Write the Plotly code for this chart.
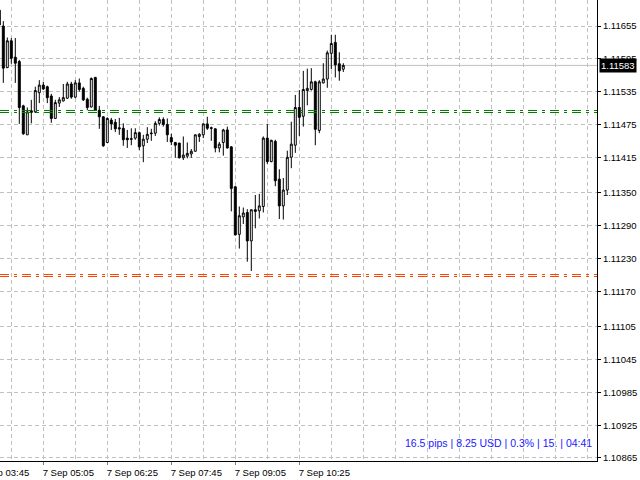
import pandas as pd
import plotly.graph_objects as go

# ---------------- data ----------------
BAR_START = "2016-09-07 04:10"
BAR_FREQ = "5min"
OPEN = [1.11684, 1.11655, 1.11579, 1.11628, 1.11598, 1.11590, 1.11509, 1.11456, 1.11500, 1.11498,
        1.11533, 1.11547, 1.11544, 1.11527, 1.11486, 1.11514, 1.11518, 1.11523, 1.11549, 1.11525,
        1.11551, 1.11541, 1.11521, 1.11507, 1.11561, 1.11501, 1.11489, 1.11442, 1.11483, 1.11479,
        1.11469, 1.11468, 1.11450, 1.11449, 1.11450, 1.11460, 1.11436, 1.11448, 1.11458, 1.11459,
        1.11477, 1.11484, 1.11475, 1.11451, 1.11442, 1.11441, 1.11414, 1.11417, 1.11421, 1.11426,
        1.11453, 1.11456, 1.11476, 1.11469, 1.11467, 1.11432, 1.11442, 1.11465, 1.11434, 1.11361,
        1.11274, 1.11306, 1.11314, 1.11262, 1.11319, 1.11317, 1.11325, 1.11450, 1.11407, 1.11444,
        1.11375, 1.11326, 1.11355, 1.11415, 1.11437, 1.11506, 1.11490, 1.11537, 1.11539, 1.11553,
        1.11464, 1.11551, 1.11558, 1.11605, 1.11625, 1.11586, 1.11576]
HIGH = [1.11693, 1.11664, 1.11634, 1.11633, 1.11633, 1.11593, 1.11511, 1.11506, 1.11520, 1.11544,
        1.11556, 1.11553, 1.11546, 1.11531, 1.11520, 1.11525, 1.11549, 1.11553, 1.11553, 1.11556,
        1.11559, 1.11544, 1.11524, 1.11561, 1.11562, 1.11509, 1.11490, 1.11488, 1.11487, 1.11485,
        1.11487, 1.11477, 1.11465, 1.11468, 1.11468, 1.11462, 1.11456, 1.11470, 1.11467, 1.11481,
        1.11488, 1.11488, 1.11486, 1.11458, 1.11443, 1.11441, 1.11453, 1.11442, 1.11430, 1.11457,
        1.11459, 1.11477, 1.11489, 1.11471, 1.11468, 1.11443, 1.11467, 1.11471, 1.11435, 1.11362,
        1.11325, 1.11323, 1.11320, 1.11319, 1.11346, 1.11348, 1.11453, 1.11476, 1.11447, 1.11447,
        1.11393, 1.11377, 1.11427, 1.11480, 1.11529, 1.11538, 1.11573, 1.11577, 1.11578, 1.11555,
        1.11556, 1.11587, 1.11610, 1.11639, 1.11639, 1.11607, 1.11587]
LOW = [1.11653, 1.11551, 1.11578, 1.11586, 1.11551, 1.11476, 1.11456, 1.11456, 1.11477, 1.11496,
       1.11514, 1.11538, 1.11514, 1.11478, 1.11485, 1.11507, 1.11517, 1.11522, 1.11522, 1.11523,
       1.11535, 1.11518, 1.11501, 1.11506, 1.11500, 1.11467, 1.11434, 1.11441, 1.11465, 1.11461,
       1.11456, 1.11436, 1.11432, 1.11437, 1.11447, 1.11428, 1.11406, 1.11441, 1.11445, 1.11454,
       1.11473, 1.11471, 1.11443, 1.11437, 1.11414, 1.11413, 1.11410, 1.11413, 1.11414, 1.11425,
       1.11443, 1.11450, 1.11465, 1.11445, 1.11424, 1.11424, 1.11418, 1.11431, 1.11316, 1.11272,
       1.11248, 1.11293, 1.11224, 1.11207, 1.11285, 1.11303, 1.11314, 1.11403, 1.11406, 1.11362,
       1.11302, 1.11301, 1.11346, 1.11395, 1.11423, 1.11454, 1.11471, 1.11510, 1.11537, 1.11437,
       1.11459, 1.11550, 1.11542, 1.11576, 1.11561, 1.11555, 1.11571]
CLOSE = [1.11657, 1.11578, 1.11628, 1.11596, 1.11587, 1.11506, 1.11458, 1.11498, 1.11497, 1.11537,
         1.11547, 1.11540, 1.11524, 1.11486, 1.11515, 1.11520, 1.11524, 1.11549, 1.11525, 1.11551,
         1.11539, 1.11520, 1.11506, 1.11559, 1.11501, 1.11489, 1.11436, 1.11486, 1.11476, 1.11467,
         1.11467, 1.11447, 1.11447, 1.11448, 1.11460, 1.11434, 1.11448, 1.11457, 1.11459, 1.11477,
         1.11484, 1.11475, 1.11456, 1.11443, 1.11437, 1.11414, 1.11419, 1.11422, 1.11426, 1.11456,
         1.11457, 1.11476, 1.11468, 1.11468, 1.11432, 1.11439, 1.11465, 1.11432, 1.11358, 1.11273,
         1.11308, 1.11313, 1.11262, 1.11319, 1.11316, 1.11326, 1.11450, 1.11407, 1.11446, 1.11372,
         1.11326, 1.11355, 1.11415, 1.11439, 1.11506, 1.11488, 1.11539, 1.11541, 1.11553, 1.11466,
         1.11553, 1.11558, 1.11606, 1.11623, 1.11584, 1.11573, 1.11583]

BID = 1.11583
LEVEL_GREEN = 1.11500
LEVEL_RED = 1.11200

Y_TICKS = [1.10865, 1.10925, 1.10985, 1.11045, 1.11105, 1.11170, 1.11230,
           1.11290, 1.11350, 1.11415, 1.11475, 1.11535, 1.11595, 1.11655]
X_TICK_TIMES = ["2016-09-07 05:05", "2016-09-07 06:25", "2016-09-07 07:45",
                "2016-09-07 09:05", "2016-09-07 10:25"]
X_TICK_LABELS = ["7 Sep 05:05", "7 Sep 06:25", "7 Sep 07:45", "7 Sep 09:05", "7 Sep 10:25"]
X_FIRST_LABEL = "7 Sep 03:45"
GRID_START, GRID_END, GRID_FREQ = "2016-09-07 04:25", "2016-09-07 16:25", "40min"
INFO_TEXT = "16.5 pips | 8.25 USD | 0.3% | 15. | 04:41"

X_RANGE = ["2016-09-07 04:10:52.5", "2016-09-07 16:37:07.5"]
Y_RANGE = [1.108595, 1.117026]

# ---------------- figure ----------------
times = pd.date_range(BAR_START, periods=len(OPEN), freq=BAR_FREQ)
grid_times = pd.date_range(GRID_START, GRID_END, freq=GRID_FREQ)

FONT = "Liberation Sans, Arial, sans-serif"
GRID = "#c0c0c0"

fig = go.Figure()
fig.add_trace(go.Candlestick(
    x=times, open=OPEN, high=HIGH, low=LOW, close=CLOSE,
    increasing=dict(line=dict(color="black", width=1), fillcolor="white"),
    decreasing=dict(line=dict(color="black", width=1), fillcolor="black"),
    whiskerwidth=0, showlegend=False, hoverinfo="skip",
))

# bid line
fig.add_hline(y=BID, line=dict(color="#c0c0c0", width=1), layer="below")

# double dash-dot level lines (pixel offsets keep both strokes crisp)
for level, color, offsets in [(LEVEL_GREEN, "#008000", (0.28, -1.72)),
                              (LEVEL_RED, "#ff4500", (0.32, -1.68))]:
    for off in offsets:
        fig.add_shape(type="line", xref="paper", x0=0, x1=1,
                      yref="y", ysizemode="pixel", yanchor=level, y0=off, y1=off,
                      line=dict(color=color, width=1, dash="9px,5px,3px,5px"))

fig.update_layout(
    width=640, height=480,
    margin=dict(l=0, r=43, t=0, b=19),
    paper_bgcolor="white", plot_bgcolor="white",
    font=dict(family=FONT, size=9.5, color="black"),
    showlegend=False,
    boxgap=0.3,
    xaxis=dict(
        type="date", range=X_RANGE, rangeslider=dict(visible=False),
        tickvals=X_TICK_TIMES, ticktext=X_TICK_LABELS,
        ticks="outside", ticklen=3, tickcolor="#808080",
        ticklabelshift=25, ticklabelstandoff=0,
        showgrid=True, gridcolor=GRID, griddash="4px,3px", gridwidth=1,
        minor=dict(tickvals=list(grid_times), showgrid=True, gridcolor=GRID,
                   griddash="4px,3px", ticks=""),
        showline=True, linecolor="black", linewidth=1,
        zeroline=False, tickfont=dict(size=9.5),
    ),
    yaxis=dict(
        side="right", range=Y_RANGE,
        tickvals=Y_TICKS, ticktext=[f"{v:.5f}" for v in Y_TICKS],
        ticks="outside", ticklen=3, tickcolor="black",
        showgrid=True, gridcolor=GRID, griddash="4px,3px", gridwidth=1,
        showline=True, linecolor="black", linewidth=1,
        zeroline=False, tickfont=dict(size=9.5),
    ),
)

# first partially visible time label
fig.add_annotation(x=X_RANGE[0], y=0, xref="x", yref="paper", text=X_FIRST_LABEL,
                   showarrow=False, xanchor="right", yanchor="top", xshift=31, yshift=-4,
                   font=dict(size=9.5, color="black"))

# bid price box
fig.add_annotation(x=1, y=BID, xref="paper", yref="y", text=f"{BID:.5f}",
                   showarrow=False, xanchor="left", yanchor="middle", xshift=2,
                   bgcolor="black", font=dict(size=9.5, color="white"), borderpad=1)

# info text
fig.add_annotation(x=1, y=0, xref="paper", yref="paper", text=INFO_TEXT,
                   showarrow=False, xanchor="right", yanchor="bottom", xshift=-3, yshift=10,
                   font=dict(size=10.5, color="#2020ff"))

fig.write_html("out.html", config={"displayModeBar": False},
               post_script="document.body.style.margin='0';document.body.style.overflow='hidden';")
